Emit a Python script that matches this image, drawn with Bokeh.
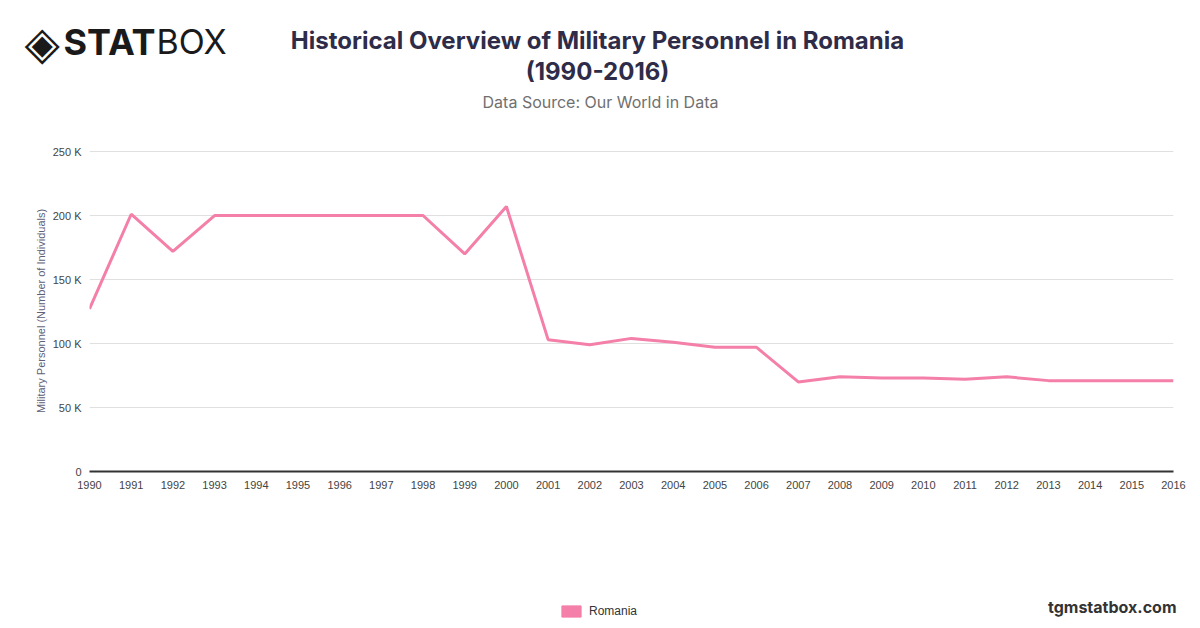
from bokeh.plotting import figure
from bokeh.layouts import column
from bokeh.models import (ColumnDataSource, Range1d, FixedTicker, Label, Legend, LegendItem)
from bokeh.embed import file_html
from bokeh.resources import INLINE

# ---- data ----
years = list(range(1990, 2017))
personnel = [127000, 201000, 172000, 200000, 200000, 200000, 200000, 200000, 200000,
             170000, 207000, 103000, 99000, 104000, 101000, 97000, 97000, 70000,
             74000, 73000, 73000, 72000, 74000, 71000, 71000, 71000, 71000]
y_ticks = [0, 50000, 100000, 150000, 200000, 250000]
y_tick_labels = ["0", "50 K", "100 K", "150 K", "200 K", "250 K"]
series_name = "Romania"
title_lines = ["Historical Overview of Military Personnel in Romania", "(1990-2016)"]
subtitle = "Data Source: Our World in Data"
site = "tgmstatbox.com"

W = 1200
H_HEAD, H_MAIN, H_FOOT = 125, 375, 128
FL, FR, FT, FB = 89, 1173, 150, 471  # frame in page coords
PINK = "#F47FA8"
TICK = "#444444"
NAN = float("nan")


def blank(h, y0):
    f = figure(width=W, height=h, output_backend="svg", toolbar_location=None,
               x_range=Range1d(0, W), y_range=Range1d(y0 + h, y0),
               x_axis_type=None, y_axis_type=None, frame_align=False,
               min_border_left=0, min_border_right=0, min_border_top=0, min_border_bottom=0)
    f.outline_line_color = None
    f.grid.grid_line_color = None
    f.background_fill_color = "white"
    f.border_fill_color = "white"
    return f


def lab(f, text, x, y, size, color, style="normal", font="Inter", align="left", baseline="middle"):
    f.add_layout(Label(x=x, y=y, text=text, text_font=font, text_font_size=size,
                       text_color=color, text_font_style=style, text_align=align,
                       text_baseline=baseline))


# ---- header ----
head = blank(H_HEAD, 0)
lab(head, title_lines[0], 597, 40, "24px", "#2e2c48", "bold", align="center")
lab(head, title_lines[1], 597, 71, "24px", "#2e2c48", "bold", align="center")
lab(head, subtitle, 600, 101, "16px", "#707070", align="center")
lab(head, "\u25C8", 24, 42, "46px", "#1a1a1a", font="DejaVu Sans")
lab(head, "STAT", 63, 41, "36px", "#1a1a1a", "bold", font="Inter")
lab(head, "BOX", 156, 41, "34px", "#1a1a1a", font="Inter")

# ---- main chart ----
p = figure(width=W, height=H_MAIN, output_backend="svg", toolbar_location=None,
           x_range=Range1d(1990, 2016), y_range=Range1d(0, 250800), frame_align=False,
           min_border_left=FL, min_border_right=W - FR,
           min_border_top=FT - H_HEAD, min_border_bottom=H_HEAD + H_MAIN - FB)
p.outline_line_color = None
p.background_fill_color = "white"
p.border_fill_color = "white"

src = ColumnDataSource(dict(x=years, y=personnel))
p.line("x", "y", source=src, line_color=PINK, line_width=3)

p.xaxis.ticker = FixedTicker(ticks=years)
p.xaxis.major_label_text_font = "Liberation Sans"
p.xaxis.major_label_text_font_size = "11px"
p.xaxis.major_label_text_color = TICK
p.xaxis.axis_line_color = "#333333"
p.xaxis.axis_line_width = 2
p.xaxis.major_tick_line_color = None
p.xaxis.minor_tick_line_color = None
p.xaxis.major_tick_out = 0
p.xaxis.major_tick_in = 0
p.xaxis.major_label_standoff = 9

p.yaxis.ticker = FixedTicker(ticks=y_ticks)
p.yaxis.major_label_overrides = {t: l for t, l in zip(y_ticks, y_tick_labels)}
p.yaxis.major_label_text_font = "Liberation Sans"
p.yaxis.major_label_text_font_size = "11px"
p.yaxis.major_label_text_color = TICK
p.yaxis.axis_line_color = None
p.yaxis.major_tick_line_color = None
p.yaxis.minor_tick_line_color = None
p.yaxis.major_tick_out = 0
p.yaxis.major_tick_in = 0
p.yaxis.major_label_standoff = 8
p.yaxis.axis_label = "Military Personnel (Number of Individuals)"
p.yaxis.axis_label_text_font = "Liberation Sans"
p.yaxis.axis_label_text_font_size = "11px"
p.yaxis.axis_label_text_font_style = "normal"
p.yaxis.axis_label_text_color = "#5f5f78"
p.yaxis.axis_label_standoff = 3

p.xgrid.grid_line_color = None
p.ygrid.grid_line_color = "#e0e0e0"
p.ygrid.grid_line_width = 1

# ---- footer ----
foot = blank(H_FOOT, H_HEAD + H_MAIN)
swatch = foot.quad(left="l", right="r", top="t", bottom="b",
                   source=ColumnDataSource(dict(l=[NAN], r=[NAN], t=[NAN], b=[NAN])),
                   fill_color=PINK, line_color=PINK)
legend = Legend(items=[LegendItem(label=series_name, renderers=[swatch], index=0)],
                location=(559, 10), orientation="horizontal",
                padding=0, margin=0, border_line_color=None, background_fill_alpha=0,
                label_text_font="Liberation Sans", label_text_font_size="12px",
                label_text_color="#333333", glyph_width=24, glyph_height=14,
                label_standoff=6, label_height=14)
foot.add_layout(legend, "center")
lab(foot, site, 1176, 606, "16px", "#333333", "bold", align="right")

layout = column(head, p, foot, spacing=0)
open("out.html", "w").write(file_html(layout, INLINE))
